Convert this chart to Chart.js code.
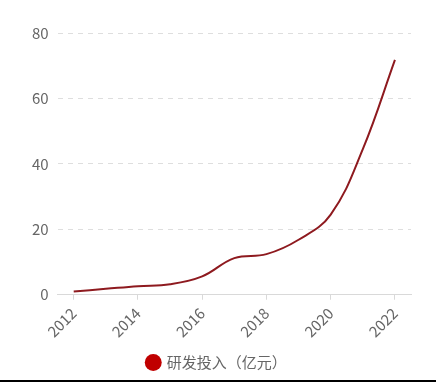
<!DOCTYPE html>
<html>
<head>
<meta charset="utf-8">
<script src="https://cdn.jsdelivr.net/npm/chart.js@4/dist/chart.umd.min.js"></script>
<style>
html,body{margin:0;padding:0;background:#fff;}
#wrap{width:436px;height:380px;border-bottom:2px solid #000;position:relative;}
</style>
</head>
<body>
<div id="wrap"><canvas id="c" width="436" height="380"></canvas></div>
<script>
const years = ['2012','2013','2014','2015','2016','2017','2018','2019','2020','2021','2022'];
const rdInvestment = [1.0, 1.8, 2.6, 3.2, 5.6, 11.2, 12.4, 16.8, 24.5, 44.5, 71.8];
const yTicks = [0, 20, 40, 60, 80];
const seriesName = '研发投入（亿元）';

const FONT = "'Noto Sans CJK SC','Noto Sans',sans-serif";

new Chart(document.getElementById('c'), {
  type: 'line',
  data: {
    labels: years,
    datasets: [{
      label: seriesName,
      data: rdInvestment,
      borderColor: '#8e1a1f',
      backgroundColor: '#c00000',
      borderWidth: 2,
      pointRadius: 0,
      pointHoverRadius: 0,
      tension: 0.4,
      fill: false
    }]
  },
  options: {
    responsive: false,
    animation: false,
    devicePixelRatio: 1,
    layout: { padding: { top: 33, right: 25, left: 23, bottom: 0 } },
    plugins: {
      tooltip: { enabled: false },
      legend: {
        position: 'bottom',
        labels: {
          usePointStyle: true,
          pointStyle: 'circle',
          boxWidth: 12,
          boxHeight: 12,
          padding: 10,
          color: '#666',
          font: { family: FONT, size: 15 },
          generateLabels: (chart) => [{
            text: seriesName,
            fillStyle: '#c00000',
            strokeStyle: '#c00000',
            lineWidth: 0,
            pointStyle: 'circle',
            fontColor: '#666',
            datasetIndex: 0
          }]
        }
      }
    },
    scales: {
      x: {
        type: 'category',
        offset: true,
        grid: {
          display: true,
          drawOnChartArea: false,
          drawTicks: true,
          tickLength: 5,
          color: (ctx) => (ctx.index % 2 === 0 ? '#d9d9d9' : 'rgba(0,0,0,0)')
        },
        border: { display: true, color: '#d9d9d9', width: 1 },
        ticks: {
          autoSkip: false,
          maxRotation: 45,
          minRotation: 45,
          padding: 4.5,
          color: '#666',
          font: { family: FONT, size: 15 },
          callback: (v, i) => (i % 2 === 0 ? years[i] : '')
        }
      },
      y: {
        min: 0,
        max: 80,
        afterBuildTicks: (axis) => { axis.ticks = yTicks.map(v => ({ value: v })); },
        grid: {
          color: '#dedede',
          drawTicks: false,
          lineWidth: 1
        },
        border: { display: false, dash: [5, 5] },
        ticks: {
          color: '#666',
          padding: 9,
          font: { family: FONT, size: 15 }
        }
      }
    }
  }
});
</script>
</body>
</html>
